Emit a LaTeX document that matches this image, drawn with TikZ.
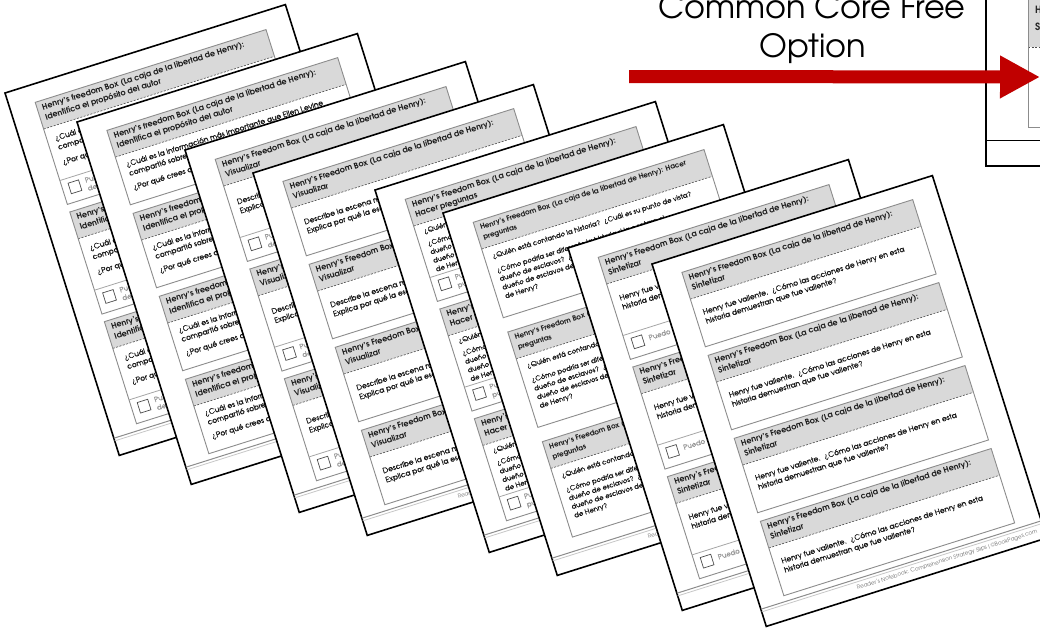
\documentclass[tikz,border=0pt]{standalone}
\usepackage{fontspec}
\setmainfont{texgyreadventor}[Extension=.otf,UprightFont=*-regular,BoldFont=*-bold,ItalicFont=*-italic,BoldItalicFont=*-bolditalic]
\newfontfamily\medfont{texgyreadventor}[Extension=.otf,UprightFont=*-regular,FakeBold=0.5]
\usetikzlibrary{arrows.meta}
\definecolor{arrowred}{HTML}{C00000}
\definecolor{hdrgray}{HTML}{D9D9D9}
\tikzset{
  pageborder/.style={draw=black, line width=1.6pt, fill=white},
  boxframe/.style={draw=black!45, line width=0.9pt},
  hdrfill/.style={fill=hdrgray},
  dashsep/.style={draw=black!70, dash pattern=on 2pt off 1.5pt, line width=0.6pt},
  sepline/.style={draw=black!35, line width=0.8pt},
  hdrtext/.style={anchor=north west, inner sep=0pt, align=left, font=\bfseries\fontsize{8}{10.5}\selectfont, text=black!90},
  smallhdr/.style={font=\bfseries\fontsize{7.2}{10.5}\selectfont},
  bodytext/.style={anchor=north west, inner sep=0pt, align=left, font=\medfont\fontsize{7.5}{9.5}\selectfont, text=black!90},
  smallbody/.style={font=\medfont\fontsize{6.9}{9}\selectfont},
  cbtext/.style={anchor=north west, inner sep=0pt, align=left, font=\medfont\fontsize{7}{8.5}\selectfont, text=black!40},
  cbox/.style={draw=black!70, line width=0.7pt, fill=white},
  footline/.style={draw=black!45, line width=1pt},
  footline2/.style={draw=black!22, line width=0.8pt},
  foottext/.style={anchor=east, inner sep=0pt, font=\fontsize{5.6}{6}\selectfont, text=black!55},
  titletext/.style={anchor=base, inner sep=0pt, font=\fontsize{32}{39}\selectfont, text=black},
  arrowline/.style={draw=arrowred, line width=13pt, -{Triangle[length=40pt,width=40pt]}},
  tinyhdr/.style={anchor=north west, inner sep=0pt, align=left, font=\bfseries\fontsize{10}{17}\selectfont, text=black!85}
}
% one sheet: #1 id, #2 x, #3 y, #4 box tops, #5 box height, #6 content
\newcommand\sheet[6]{%
\begin{scope}[shift={(#2,#3)}, rotate=17.5, transform shape]
  \path[pageborder] (0,0) rectangle (294,380);
  \draw[footline] (0,362) -- (294,362);
  \draw[footline2] (0,364.8) -- (294,364.8);
  \node[foottext] (f#1) at (287,371) {Reader's Notebook: Comprehension Strategy Slips | ©BookPages.com};
  \foreach \t in {#4}{
    \def\pid{#1}
    \fill[hdrfill] (26,\t) rectangle (268,\t+28);
    \draw[dashsep] (26,\t+28) -- (268,\t+28);
    \draw[boxframe] (26,\t) rectangle (268,\t+#5);
    #6
  }
\end{scope}}
\newcommand\hdr[1]{\node[hdrtext] (h\pid-\t) at (31,\t+3.5) {#1};}
\newcommand\hdrs[1]{\node[hdrtext,smallhdr] (h\pid-\t) at (31,\t+3.8) {#1};}
\newcommand\bod[3]{\node[bodytext] (b#1\pid-\t) at (34,\t+#2) {#3};}
\newcommand\bods[3]{\node[bodytext,smallbody] (b#1\pid-\t) at (34,\t+#2) {#3};}
\newcommand\chk[2]{\draw[sepline] (26,\t+82) -- (268,\t+82);
  \draw[cbox] (33,\t+87) rectangle (44,\t+98);
  \node[cbtext] (c\pid-\t) at (50,\t+#1) {#2};}
\newcommand\HB{Henry's Freedom Box (La caja de la libertad de Henry):}
% contents
\newcommand\cIdA{\hdr{Henry's freedom Box (La caja de la libertad de Henry):\\Identifica el propósito del autor}%
  \bod{a}{37}{¿Cuál es la información más importante que Ellen Levine\\compartió sobre Henry?}%
  \bod{b}{62}{¿Por qué crees que la compartió?}%
  \chk{86.5}{Puedo identificar el propósito del autor y\\describir cómo lo logra.}}
\newcommand\cIdB{\hdr{Henry's freedom Box (La caja de la libertad de Henry):\\Identifica el propósito del autor}%
  \bod{a}{35}{¿Cuál es la información más importante que Ellen Levine\\compartió sobre Henry?}%
  \bod{b}{59}{¿Por qué crees que la compartió?}}
\newcommand\cVisA{\hdr{\HB\\Visualizar}%
  \bod{a}{44}{Describe la escena más importante de la historia.\\Explica por qué la escogiste.}%
  \chk{86.5}{Puedo visualizar lo que leo y\\describir lo que veo.}}
\newcommand\cVisB{\hdr{\HB\\Visualizar}%
  \bod{a}{42}{Describe la escena más importante de la historia.\\Explica por qué la escogiste.}}
\newcommand\cPregA{\hdr{\HB\\Hacer preguntas}%
  \bods{a}{33}{¿Quién está contando la historia?\ \ ¿Cuál es su punto de vista?}%
  \bods{b}{46}{¿Cómo podría ser diferente la historia si la contara el\\dueño de esclavos?\ \ ¿Cómo sería si la contara el\\dueño de esclavos de la esposa\\de Henry?}%
  \chk{86.5}{Puedo hacer preguntas sobre el\\punto de vista del narrador.}}
\newcommand\cPregB{\hdrs{Henry's Freedom Box (La caja de la libertad de Henry): Hacer\\preguntas}%
  \bods{a}{35}{¿Quién está contando la historia?\ \ ¿Cuál es su punto de vista?}%
  \bods{b}{50}{¿Cómo podría ser diferente la historia si la contara el\\dueño de esclavos?\ \ ¿Cómo sería si la contara el\\dueño de esclavos de la esposa\\de Henry?}}
\newcommand\cSinA{\hdr{\HB\\Sintetizar}%
  \bod{a}{42}{Henry fue valiente.\ \ ¿Cómo las acciones de Henry en esta\\historia demuestran que fue valiente?}%
  \chk{89}{Puedo sintetizar la información del cuento.}}
\newcommand\cSinB{\hdr{\HB\\Sintetizar}%
  \bod{a}{41}{Henry fue valiente.\ \ ¿Cómo las acciones de Henry en esta\\historia demuestran que fue valiente?}}

\begin{document}
\begin{tikzpicture}[x=1pt,y=-1pt]
\useasboundingbox (0,0) rectangle (1040,629);
\fill[white] (0,0) rectangle (1040,629);
\clip (0,0) rectangle (1040,629);

\sheet{1}{5}{93}{18,133,248}{107}{\cIdA}
\sheet{2}{77}{122}{17,104,191,278}{78}{\cIdB}
\sheet{3}{185}{150}{18,133,248}{107}{\cVisA}
\sheet{4}{253}{173}{17,104,191,278}{78}{\cVisB}
\sheet{5}{375}{190}{18,133,248}{107}{\cPregA}
\sheet{6}{443}{213}{18,133,248}{100}{\cPregB}
\sheet{7}{568}{248}{18,133,248}{107}{\cSinA}
\sheet{8}{652}{264}{17,104,191,278}{78}{\cSinB}

% partial sheet at top right
\path[fill=white] (986,-5) rectangle (1045,166);
\fill[hdrfill] (1028,-5) rectangle (1045,47);
\draw[dashsep] (1028,47) -- (1045,47);
\draw[boxframe] (1045,127) -- (1028,127) -- (1028,-5);
\node[tinyhdr] (tr) at (1035,6) {Henry's Freedom Box\\Sintetizar};
\draw[line width=0.8pt] (986,140) -- (1045,140);
\draw[line width=1.5pt] (986,-5) -- (986,166) -- (1045,166);

% title and arrow
\node[titletext] (t1) at (812,18) {Common Core Free};
\node[titletext] (t2) at (813,57) {Option};
\coordinate (a1) at (629,76.5);
\coordinate (a2) at (1040,77);
\draw[arrowline] (a1) -- (a2);
\end{tikzpicture}
\end{document}
